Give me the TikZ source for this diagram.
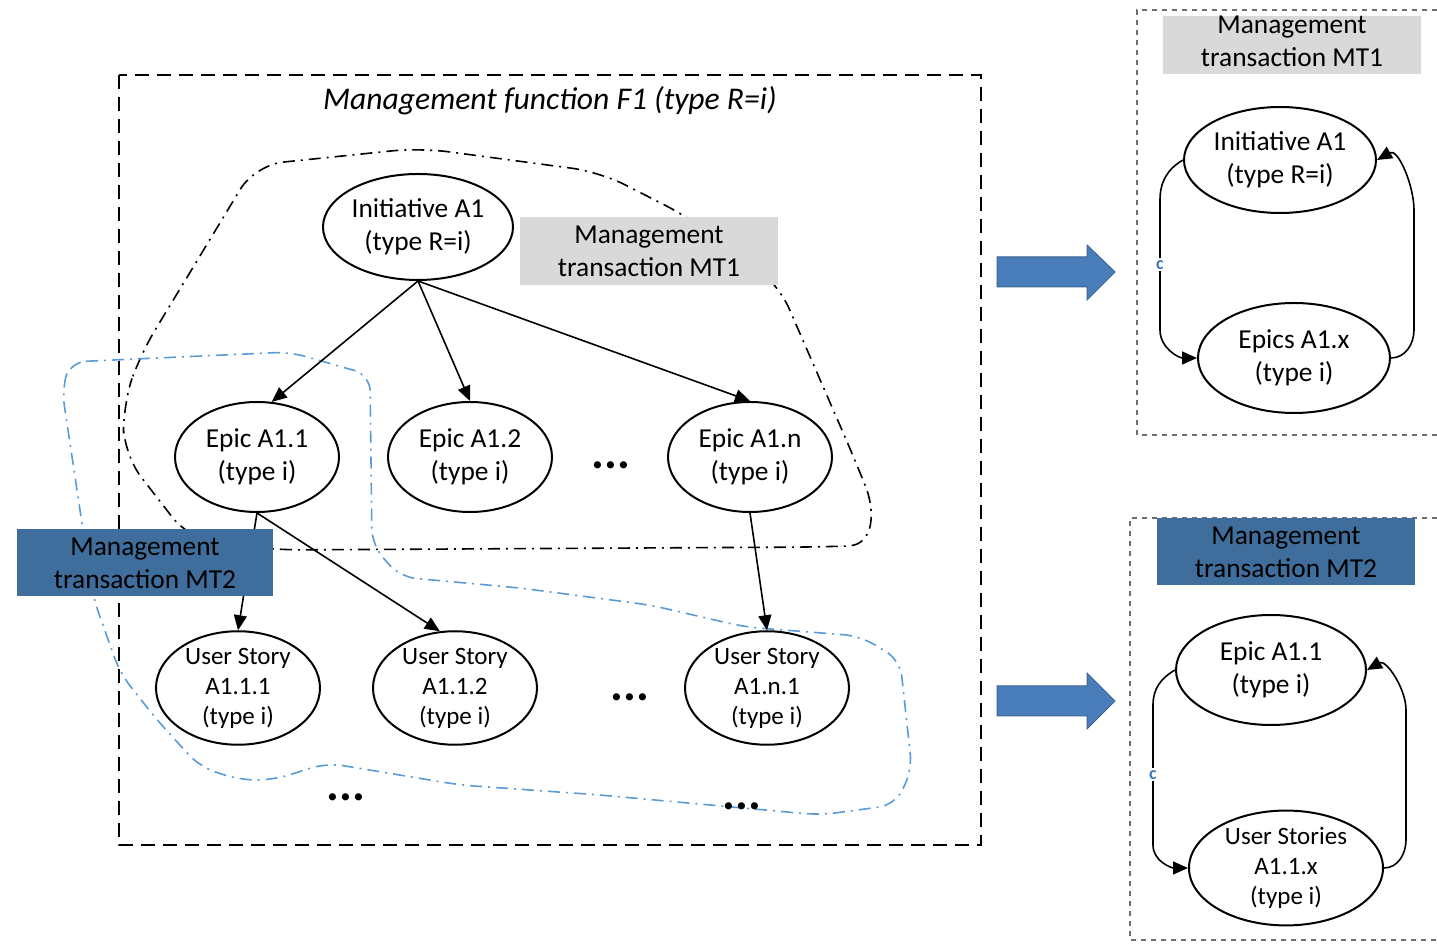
\documentclass[tikz,border=0pt]{standalone}
\usepackage{fontspec}
\setmainfont{Carlito}
\usetikzlibrary{arrows.meta,shapes.geometric}
\definecolor{mtgray}{RGB}{217,217,217}
\definecolor{mtblue}{RGB}{63,109,156}
\definecolor{lineblue}{RGB}{91,155,213}
\definecolor{labelblue}{RGB}{60,120,185}
\definecolor{arrowblue}{RGB}{74,126,187}
\definecolor{arrowedge}{RGB}{60,100,150}
\definecolor{panelgray}{RGB}{110,110,110}
\begin{document}
\begin{tikzpicture}[x=0.5pt,y=-0.5pt,
  ell/.style={ellipse, draw, line width=1pt, fill=white, inner sep=0pt, align=center,
    font=\fontsize{13.7}{16.5}\selectfont},
  ellsmall/.style={ell, font=\fontsize{12.5}{15}\selectfont},
  graybox/.style={rectangle, fill=mtgray, inner sep=0pt, align=center,
    font=\fontsize{13.7}{16.5}\selectfont},
  bluebox/.style={rectangle, fill=mtblue, inner sep=0pt, align=center,
    font=\fontsize{13.7}{16.5}\selectfont},
  conn/.style={line width=0.8pt, -{Triangle[length=7.5pt,width=6.5pt]}},
  dotsnode/.style={font=\fontsize{24}{24}\selectfont\bfseries, inner sep=0pt},
  outerframe/.style={line width=1pt, dash pattern=on 7pt off 4pt},
  mtoneline/.style={line width=0.8pt, dash pattern=on 6pt off 3pt on 1pt off 3pt},
  mttwoline/.style={line width=0.8pt, draw=lineblue, dash pattern=on 6pt off 3pt on 1pt off 3pt},
  panelframe/.style={line width=0.7pt, draw=panelgray, dash pattern=on 2.5pt off 2.5pt},
  clabel/.style={font=\fontsize{9}{9}\selectfont\bfseries, text=labelblue, fill=white, inner sep=1pt},
  blockarrow/.style={fill=arrowblue, draw=arrowedge, line width=0.5pt}
]
\useasboundingbox (0,0) rectangle (1437,945);

% outer frame
\draw[outerframe] (119,75) rectangle (981,845);
\node[font=\fontsize{15.8}{18}\selectfont\itshape] (title) at (550,101) {Management function F1 (type R=i)};

% MT1 boundary (black dash-dot)
\draw[mtoneline, rounded corners=14pt] (124,455) -- (123,405) -- (140,355) -- (255,165) -- (420,148) -- (600,172) -- (690,218) -- (778,283) -- (855,460) .. controls (875,510) and (875,545) .. (820,547) -- (275,550) -- (190,540) -- cycle;

% MT2 boundary (blue dash-dot)
\draw[mttwoline, rounded corners=8pt] (70,362) -- (290,352) -- (370,375) -- (372,545) -- (400,577) -- (520,588) -- (650,605) -- (745,627) -- (860,636) -- (900,660) -- (912,770) -- (895,805) -- (820,815) -- (600,795) -- (460,785) -- (327,763) -- (273,780) -- (240,780) -- (200,767) -- (157,720) -- (120,673) -- (93,597) -- (77,490) -- (62,390) -- cycle;

% nodes (main)
\node[ell, minimum width=95pt, minimum height=53pt] (ia) at (418,227) {Initiative A1\\(type R=i)};
\node[ell, minimum width=82pt, minimum height=55pt] (e1) at (257,457) {Epic A1.1\\(type i)};
\node[ell, minimum width=82pt, minimum height=55pt] (e2) at (470,457) {Epic A1.2\\(type i)};
\node[ell, minimum width=82pt, minimum height=55pt] (en) at (750,457) {Epic A1.n\\(type i)};
\node[ellsmall, minimum width=82pt, minimum height=53pt] (u1) at (238,688) {User Story\\A1.1.1\\(type i)};
\node[ellsmall, minimum width=82pt, minimum height=53pt] (u2) at (455,688) {User Story\\A1.1.2\\(type i)};
\node[ellsmall, minimum width=82pt, minimum height=53pt] (un) at (767,688) {User Story\\A1.n.1\\(type i)};

\node[dotsnode] (d1) at (611,465) {...};
\node[dotsnode] (d2) at (630,697) {...};
\node[dotsnode] (d3) at (346,797) {...};
\node[dotsnode] (d4) at (742,806) {...};

% connectors
\draw[conn] (ia.south) -- (e1.75);
\draw[conn] (ia.south) -- (e2.north);
\draw[conn] (ia.south) -- (en.north);
\draw[conn] (e1.south) -- (u1.north);
\draw[conn] (e1.south) -- (u2.105);
\draw[conn] (en.south) -- (un.north);

% labels boxes
\node[graybox, minimum width=129pt, minimum height=34pt] (mt1) at (649,251) {Management\\transaction MT1};
\node[bluebox, minimum width=128pt, minimum height=33.5pt] (mt2) at (145,563) {Management\\transaction MT2};

% block arrows
\draw[blockarrow] (997,257) -- (1087,257) -- (1087,245) -- (1115,272) -- (1087,300) -- (1087,287) -- (997,287) -- cycle;
\draw[blockarrow] (997,686) -- (1087,686) -- (1087,673) -- (1115,701) -- (1087,729) -- (1087,716) -- (997,716) -- cycle;

% right upper panel
\draw[panelframe] (1437,10) -- (1137,10) -- (1137,435) -- (1437,435);
\node[graybox, minimum width=129pt, minimum height=29pt] (rmt1) at (1292,45) {};
\node[font=\fontsize{13.7}{16.5}\selectfont, align=center, inner sep=0pt] (rmt1t) at (1292,41) {Management\\transaction MT1};
\node[ell, minimum width=96pt, minimum height=53pt] (ri) at (1280,160) {Initiative A1\\(type R=i)};
\node[ell, minimum width=96pt, minimum height=55pt] (re) at (1294,358) {Epics A1.x\\(type i)};
\draw[conn] (ri.west) to[out=-150,in=90] (1160,200) -- node[clabel] {c} (1160,330) to[out=-90,in=180] (re.west);
\draw[conn] (re.east) to[out=0,in=-90] (1414,330) -- (1414,210) to[out=90,in=30] (ri.east);

% right lower panel
\draw[panelframe] (1437,518) -- (1130,518) -- (1130,940) -- (1437,940);
\node[bluebox, minimum width=129pt, minimum height=33.5pt] (rmt2) at (1286,552) {Management\\transaction MT2};
\node[ell, minimum width=95pt, minimum height=55pt] (re2) at (1271,670) {Epic A1.1\\(type i)};
\node[ellsmall, minimum width=97pt, minimum height=56pt] (rus) at (1286,868) {User Stories\\A1.1.x\\(type i)};
\draw[conn] (re2.west) to[out=-150,in=90] (1153,705) -- node[clabel] {c} (1153,845) to[out=-90,in=180] (rus.west);
\draw[conn] (rus.east) to[out=0,in=-90] (1406,840) -- (1406,710) to[out=90,in=30] (re2.east);
\end{tikzpicture}
\end{document}
